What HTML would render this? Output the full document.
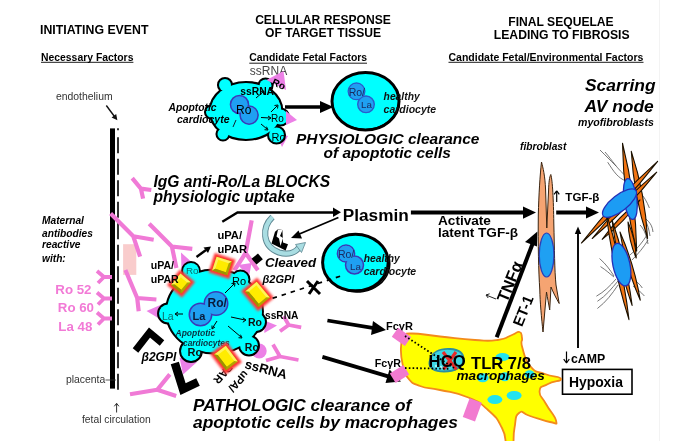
<!DOCTYPE html>
<html><head><meta charset="utf-8">
<style>
html,body{margin:0;padding:0;background:#fff;}
body{width:682px;height:441px;overflow:hidden;position:relative;}
svg{position:absolute;left:0;top:0;filter:blur(0.35px);}
text{font-family:"Liberation Sans",sans-serif;fill:#000;}
.b{font-weight:bold}
.i{font-style:italic}
.bi{font-weight:bold;font-style:italic}
</style></head>
<body>
<svg width="682" height="441" viewBox="0 0 682 441">
<defs>
  <marker id="ah" viewBox="0 0 10 10" refX="9" refY="5" markerWidth="3.2" markerHeight="3.2" orient="auto"><path d="M0,0 L10,5 L0,10 z" fill="#000"/></marker>
  <filter id="glow" x="-50%" y="-50%" width="200%" height="200%"><feGaussianBlur stdDeviation="1.2"/></filter>
</defs>
<rect x="0" y="0" width="682" height="441" fill="#fff"/>
<line x1="659.5" y1="0" x2="659.5" y2="441" stroke="#f3f3f3" stroke-width="1"/>

<!-- ===== headings ===== -->
<text class="b" x="40" y="33.7" font-size="12.3">INITIATING EVENT</text>
<text class="b" x="41" y="60.8" font-size="10.4">Necessary Factors</text>
<line x1="41" y1="62.3" x2="133.4" y2="62.3" stroke="#000" stroke-width="0.9"/>
<text x="56" y="99.7" font-size="10.4" style="fill:#333">endothelium</text>

<text class="b" x="323" y="24.2" font-size="12.1" text-anchor="middle">CELLULAR RESPONSE</text>
<text class="b" x="323" y="36.7" font-size="12.1" text-anchor="middle">OF TARGET TISSUE</text>
<text class="b" x="249.3" y="61.3" font-size="10.4">Candidate Fetal Factors</text>
<line x1="249.3" y1="63.2" x2="367" y2="63.2" stroke="#000" stroke-width="0.9"/>
<text x="249.8" y="74.8" font-size="12" style="fill:#444">ssRNA</text>

<text class="b" x="561" y="26" font-size="12.1" text-anchor="middle">FINAL SEQUELAE</text>
<text class="b" x="561.7" y="39" font-size="12.2" text-anchor="middle">LEADING TO FIBROSIS</text>
<text class="b" x="448.5" y="60.6" font-size="10.5">Candidate Fetal/Environmental Factors</text>
<line x1="448.5" y1="62.3" x2="643.5" y2="62.3" stroke="#000" stroke-width="0.9"/>

<text class="bi" x="585" y="91" font-size="17.4">Scarring</text>
<text class="bi" x="584.5" y="112" font-size="17.4">AV node</text>
<text class="bi" x="578" y="125.5" font-size="10.6">myofibroblasts</text>
<text class="bi" x="520" y="149.5" font-size="10.2">fibroblast</text>

<!-- ===== left barrier ===== -->
<path d="M106.3,105.5 L114.5,116.5" stroke="#111" stroke-width="1.4"/>
<path d="M117.4,120.2 L111.6,117.6 L116.2,113.9 Z" fill="#111"/>
<rect x="110" y="128.4" width="5" height="260.2" fill="#000"/>
<line x1="118" y1="128.2" x2="118" y2="130.2" stroke="#000" stroke-width="1.6"/>
<line x1="118" y1="137.2" x2="118" y2="390" stroke="#000" stroke-width="1.6" stroke-dasharray="16,5.5"/>

<text class="bi" x="42" y="224" font-size="10.2">Maternal</text>
<text class="bi" x="42" y="236.5" font-size="10.2">antibodies</text>
<text class="bi" x="42" y="248.3" font-size="10.2">reactive</text>
<text class="bi" x="42" y="261.6" font-size="10.2">with:</text>
<text class="b" x="91.5" y="293.6" font-size="13.3" text-anchor="end" style="fill:#f27ad6">Ro 52</text>
<text class="b" x="94" y="312.4" font-size="13.3" text-anchor="end" style="fill:#f27ad6">Ro 60</text>
<text class="b" x="92.3" y="330.5" font-size="13.3" text-anchor="end" style="fill:#f27ad6">La 48</text>
<text x="66" y="383" font-size="10.4" style="fill:#333">placenta</text>
<line x1="105.5" y1="380" x2="116" y2="380" stroke="#333" stroke-width="0.8"/>
<g stroke="#333" stroke-width="1" fill="none"><path d="M116.6,412.5 L116.6,403.5"/><path d="M116.6,403.3 l-2.3,3 M116.6,403.3 l2.3,3"/></g>
<text x="82" y="423" font-size="10.3" style="fill:#333">fetal circulation</text>

<!-- ===== top apoptotic cell ===== -->
<g>
  <g id="topcell-shape">
    <circle cx="225" cy="85" r="6"/>
    <circle cx="265.5" cy="85.5" r="6"/>
    <circle cx="211.5" cy="112" r="5.5"/>
    <circle cx="223" cy="134" r="5.5"/>
    <circle cx="280.5" cy="117" r="7.5"/>
    <circle cx="276.5" cy="135" r="7.5"/>
    <ellipse cx="246" cy="111" rx="35.3" ry="28"/>
  </g>
  <!-- pink triangles -->
  <path d="M276,133 L288,136 L282,147 Z" fill="#ec80e6"/>
    <use href="#topcell-shape" stroke="#000" stroke-width="4.1" fill="#000"/>
  <use href="#topcell-shape" fill="#00ffff"/>
  <g fill="#1fa0f2" stroke="#3a3ab8" stroke-width="3">
    <circle cx="239.5" cy="104.5" r="8.3"/>
    <circle cx="249.1" cy="115.1" r="8.3"/>
  </g>
  <g fill="#1fa0f2">
    <circle cx="239.5" cy="104.5" r="8.3"/>
    <circle cx="249.1" cy="115.1" r="8.3"/>
  </g>
  <path d="M233,127 L236,120" stroke="#123" stroke-width="1"/>
  <path d="M266.5,80 L283.5,71 L286,90 Z" fill="#ec80e6"/>
  <path d="M286,111 L297,120 L286,125 Z" fill="#ec80e6"/>
<text class="b" x="240.3" y="95" font-size="10.3" style="fill:#000">ssRNA</text>
  <text x="236" y="114.2" font-size="12" style="fill:#000">Ro</text>
  <text x="271" y="121.5" font-size="10" style="fill:#000">Ro</text>
  <text x="271.5" y="140.5" font-size="11" style="fill:#000">Ro</text>
  <text x="273" y="87" font-size="10" class="b" transform="rotate(25 278 82)" style="fill:#000">Ro</text>
  <g stroke="#000" stroke-width="1" fill="none">
    <path d="M256,98 L263,92"/><path d="M264,91 l-3.5,0.5 M264,91 l-0.5,3.5"/>
    <path d="M271,112 L277,106"/><path d="M278,105 l-3.5,0.5 M278,105 l-0.5,3.5"/>
    <path d="M261,117.5 L270,118"/><path d="M271,118 l-3,-2 M271,118 l-3,2"/>
    <path d="M261,124 L267,129"/><path d="M268,130 l-1.5,-3.3 M268,130 l-3.5,-0.3"/>
  </g>
  <text class="bi" x="168.5" y="111" font-size="10.3">Apoptotic</text>
  <text class="bi" x="177" y="122.5" font-size="10.5">cardiocyte</text>
</g>
<!-- arrow to healthy -->
<path d="M285,107 L322,107" stroke="#000" stroke-width="3.6"/>
<path d="M320,101 L333.5,107 L320,113 Z" fill="#000"/>
<!-- healthy cell top -->
<g>
  <ellipse cx="365.5" cy="101.2" rx="33.5" ry="28.8" fill="#00ffff" stroke="#000" stroke-width="3"/>
  <path d="M396,90 A33.5,28.8 0 0 1 350,126" stroke="#000" stroke-width="2" fill="none" transform="translate(1 1)"/>
  <g fill="#1fa0f2" stroke="#2a5ccc" stroke-width="1.4">
    <circle cx="356.5" cy="91.3" r="8.3"/>
    <circle cx="366" cy="104.3" r="8.3"/>
  </g>
  <circle cx="356.5" cy="91.3" r="7.6" fill="#1fa0f2"/>
  <text x="348.7" y="95.5" font-size="10.5" style="fill:#1a2a60">Ro/</text>
  <text x="361" y="108" font-size="9.8" style="fill:#1a2a60">La</text>
  <text class="bi" x="383.6" y="100" font-size="10.3" style="fill:#111">healthy</text>
  <text class="bi" x="383.6" y="113" font-size="10.5" style="fill:#111">cardiocyte</text>
</g>

<!-- antibodies -->
<g>
<path d="M132.2,178.2 L140.9,188.6 M151.3,190 L140.9,188.6 L143.1,198.6" stroke="#f07ad6" stroke-width="4.2" fill="none" stroke-linejoin="round"/>
<rect x="123.1" y="244.2" width="13.2" height="30.7" fill="#f9cccc"/>
<path d="M110.6,213.6 L133.3,236.3 M153.7,239.7 L133.3,236.3 L140.1,256.7" stroke="#f07ad6" stroke-width="4.2" fill="none" stroke-linejoin="round"/>
<path d="M149.2,223.8 L171.9,246.5 M192.3,248.8 L171.9,246.5 L176.4,268" stroke="#f07ad6" stroke-width="4.2" fill="none" stroke-linejoin="round"/>
<path d="M112,277 L104,277 M97,271 L104,277 L98,283" stroke="#f07ad6" stroke-width="3.8" fill="none" stroke-linejoin="round"/>
<path d="M112,298.5 L104,298.5 M97,292.5 L104,298.5 L98,304.5" stroke="#f07ad6" stroke-width="3.8" fill="none" stroke-linejoin="round"/>
<path d="M112,318.5 L104,318.5 M97,312.5 L104,318.5 L98,324.5" stroke="#f07ad6" stroke-width="3.8" fill="none" stroke-linejoin="round"/>
<path d="M125.4,270 L137.2,298 M156.4,299.5 L137.2,298 L138.7,311.3" stroke="#f07ad6" stroke-width="4.2" fill="none" stroke-linejoin="round"/>
<path d="M130,394.3 L157.2,389.8 M169.8,374.4 L157.2,389.8 L176.2,396" stroke="#f07ad6" stroke-width="4.2" fill="none" stroke-linejoin="round"/>
<path d="M251.7,220.3 L245.6,253 M234.4,270.3 L245.6,253 L257.9,270.3" stroke="#f07ad6" stroke-width="4.2" fill="none" stroke-linejoin="round"/>
<path d="M301.2,327.4 L288.7,325 M283.7,316.2 L288.7,325 L280,331.2" stroke="#f07ad6" stroke-width="3.8" fill="none" stroke-linejoin="round"/>
<path d="M298.5,360 L280,356.5 M273,344.5 L280,356.5 L266,360.5" stroke="#f07ad6" stroke-width="3.8" fill="none" stroke-linejoin="round"/>
</g>
<!-- ===== bottom apoptotic cell ===== -->
<g>
  <g id="botcell-shape">
    <circle cx="191" cy="271" r="8"/>
    <circle cx="240.5" cy="279.5" r="8"/>
    <circle cx="168" cy="313.5" r="9"/>
    <circle cx="256" cy="322" r="9"/>
    <circle cx="249" cy="345.5" r="9"/>
    <circle cx="191" cy="351" r="10"/>
    <ellipse cx="214.5" cy="311.5" rx="47.5" ry="41"/>
  </g>
  <!-- pink triangles -->
  <g fill="#ec80e6">
    <path d="M181,252.5 L196,266 L181.5,271 Z"/>
    <path d="M146.5,311 L162.7,304 L161.5,320 Z"/>
    <path d="M264.4,320.5 L277,325.5 L264.4,333 Z"/>
    <path d="M238,265 L251.5,263 L249,277 Z"/>
    <circle cx="259.2" cy="351" r="7.5"/>
    <path d="M179.5,357.5 L197,362 L183,374.5 Z"/>
  </g>
  <use href="#botcell-shape" stroke="#000" stroke-width="3.9" fill="#000"/>
  <use href="#botcell-shape" fill="#00ffff"/>
  <g fill="#1fa0f2" stroke="#3a3ab8" stroke-width="3">
    <circle cx="200.5" cy="314.5" r="10.5"/>
    <circle cx="216" cy="303.5" r="11"/>
  </g>
  <g fill="#1fa0f2">
    <circle cx="200.5" cy="314.5" r="10.5"/>
    <circle cx="216" cy="303.5" r="11"/>
  </g>

  <text x="207.5" y="306.8" font-size="12" class="b" style="fill:#0a1a3a">Ro/</text>
  <text x="192.5" y="319.5" font-size="11" class="b" style="fill:#0a1a3a">La</text>
  <text x="162" y="320" font-size="10.5" style="fill:#0d6a6a">La</text>
  <text x="186" y="274.3" font-size="9.8" style="fill:#0d6a6a">Ro</text>
  <text x="232" y="284.6" font-size="11" style="fill:#000">Ro</text>
  <text x="248" y="325.7" font-size="10.5" class="b" style="fill:#111">Ro</text>
  <text x="244.8" y="351" font-size="10.5" class="b" style="fill:#111">Ro</text>
  <text x="187.6" y="356" font-size="11" class="b" style="fill:#111">Ro</text>
  <text x="265" y="319" font-size="10.2" class="b">ssRNA</text>
  <text x="244" y="368" font-size="13.2" class="b" transform="rotate(15 244 368)">ssRNA</text>
  <text class="bi" x="175.5" y="336" font-size="8.5" style="fill:#0a3040">Apoptotic</text>
  <text class="bi" x="183" y="346.3" font-size="8.4" style="fill:#0a3040">cardiocytes</text>
  <g stroke="#000" stroke-width="1" fill="none">
    <path d="M183,314 L176,314"/><path d="M175,314 l3,-2 M175,314 l3,2"/>
    <path d="M225,293 L234,284"/><path d="M235,283 l-3.5,0.5 M235,283 l-0.5,3.5"/>
    <path d="M231,317 L245,320"/><path d="M246,320 l-3.2,-2.2 M246,320 l-3.2,2.2"/>
    <path d="M228,326 L241,337"/><path d="M242,338 l-1.5,-3.3 M242,338 l-3.5,-0.3"/>
    <path d="M217,321 L212.5,328"/><path d="M212,329 l0,-3.5 M212,329 l3,-2"/>
  </g>
  <text class="b" font-size="11" text-anchor="middle" dy="0.36em" transform="translate(225.5 371.5) rotate(132)">uPAR</text>
  <!-- yellow pyramids -->
  <g id="pyr">
<g transform="translate(181 283.5) rotate(40)">
  <rect x="-9.75" y="-10.25" width="19.50" height="20.50" fill="#ff3a3a" filter="url(#glow)"/>
  <rect x="-7.55" y="-8.05" width="15.1" height="16.1" fill="#ff3a2a"/>
  <rect x="-6.75" y="-7.25" width="13.5" height="14.5" fill="#b0a400"/>
  <path d="M-6.75,-7.25 L6.75,-7.25 L4.25,-4.75 L-4.25,4.75 L-6.75,7.25 Z" fill="#fff25a"/>
  <rect x="-4.25" y="-4.75" width="8.5" height="9.5" fill="#ffec00"/>
  <path d="M-6.75,7.25 L-4.25,4.75 L4.25,4.75 L6.75,7.25 Z" fill="#9c9200"/>
</g><g transform="translate(222 266) rotate(18)">
  <rect x="-11.00" y="-10.25" width="22.00" height="20.50" fill="#ff3a3a" filter="url(#glow)"/>
  <rect x="-8.8" y="-8.05" width="17.6" height="16.1" fill="#ff3a2a"/>
  <rect x="-8.0" y="-7.25" width="16" height="14.5" fill="#b0a400"/>
  <path d="M-8.0,-7.25 L8.0,-7.25 L5.5,-4.75 L-5.5,4.75 L-8.0,7.25 Z" fill="#fff25a"/>
  <rect x="-5.5" y="-4.75" width="11" height="9.5" fill="#ffec00"/>
  <path d="M-8.0,7.25 L-5.5,4.75 L5.5,4.75 L8.0,7.25 Z" fill="#9c9200"/>
</g><g transform="translate(257.5 294.5) rotate(50)">
  <rect x="-13.25" y="-10.50" width="26.50" height="21.00" fill="#ff3a3a" filter="url(#glow)"/>
  <rect x="-11.05" y="-8.3" width="22.1" height="16.6" fill="#ff3a2a"/>
  <rect x="-10.25" y="-7.5" width="20.5" height="15" fill="#b0a400"/>
  <path d="M-10.25,-7.5 L10.25,-7.5 L7.75,-5.0 L-7.75,5.0 L-10.25,7.5 Z" fill="#fff25a"/>
  <rect x="-7.75" y="-5.0" width="15.5" height="10" fill="#ffec00"/>
  <path d="M-10.25,7.5 L-7.75,5.0 L7.75,5.0 L10.25,7.5 Z" fill="#9c9200"/>
</g><g transform="translate(226 358) rotate(53)">
  <rect x="-12.95" y="-10.25" width="25.90" height="20.50" fill="#ff3a3a" filter="url(#glow)"/>
  <rect x="-10.75" y="-8.05" width="21.5" height="16.1" fill="#ff3a2a"/>
  <rect x="-9.95" y="-7.25" width="19.9" height="14.5" fill="#b0a400"/>
  <path d="M-9.95,-7.25 L9.95,-7.25 L7.449999999999999,-4.75 L-7.449999999999999,4.75 L-9.95,7.25 Z" fill="#fff25a"/>
  <rect x="-7.449999999999999" y="-4.75" width="14.899999999999999" height="9.5" fill="#ffec00"/>
  <path d="M-9.95,7.25 L-7.449999999999999,4.75 L7.449999999999999,4.75 L9.95,7.25 Z" fill="#9c9200"/>
</g>
  </g>
</g>


<!-- black L shapes and diamond -->
<path d="M135.5,350.5 L149.5,332.5 L162,343" stroke="#000" stroke-width="7" fill="none" stroke-linejoin="miter"/>
<path d="M174.8,363 L183,389 L198,382" stroke="#000" stroke-width="8.5" fill="none" stroke-linejoin="miter"/>
<rect x="-4.2" y="-3.8" width="8.4" height="7.6" fill="#000" transform="translate(257.2 259) rotate(-40)"/>
<text class="bi" x="141.5" y="360.5" font-size="12">β2GPI</text>
<text class="b" x="217.4" y="238.5" font-size="11.2">uPA/</text>
<text class="b" x="217.4" y="253" font-size="11.2">uPAR</text>
<text class="b" x="150.7" y="269.4" font-size="10.6">uPA/</text>
<text class="b" x="150.7" y="282.8" font-size="10.6">uPAR</text>
<text class="b" font-size="11" text-anchor="middle" dy="0.36em" transform="translate(238.5 381.5) rotate(132)">uPA/</text>
<text class="bi" x="265" y="267" font-size="13.3">Cleaved</text>
<text class="bi" x="262.5" y="283" font-size="11">β2GPI</text>

<!-- uPAR -> plasmin line -->
<path d="M222.3,221.7 L237.5,212.5 L334,212.5" stroke="#000" stroke-width="2.4" fill="none"/>
<path d="M333,207.5 L341,212.3 L333,217 Z" fill="#000"/>
<path d="M196.5,257 L206,250" stroke="#000" stroke-width="2.4"/>
<path d="M203.5,247.5 L211,246.5 L208,253 Z" fill="#000"/>
<!-- plasmin -> cleaved arrow -->
<path d="M338.4,217.5 L297,235" stroke="#000" stroke-width="1.8"/>
<path d="M298.5,230.5 L291,238 L302,238.5 Z" fill="#000"/>
<!-- cyclic icon -->
<path d="M272.5,217 C262,227 261.5,246 279,252.5 C289,255.5 296,252 299.5,247" stroke="#5d8792" stroke-width="6.2" fill="none"/>
<path d="M272.5,217 C262,227 261.5,246 279,252.5 C289,255.5 296,252 299.5,247" stroke="#a9dde2" stroke-width="4.4" fill="none"/>
<path d="M295.5,244.5 L305.5,242.5 L301.5,252.5 Z" fill="#a9dde2" stroke="#5d8792" stroke-width="0.8"/>
<path d="M271.5,243.5 L275,231.8 L278,229.3 L282.4,230 L283,242.4 L288,244.3 L285.6,250.5 Z" fill="#000"/>
<path d="M278,229.5 L282.5,230 L280,236 L283,238 L280.5,246 L279,238.5 L276.5,236.5 Z" fill="#fff"/>

<!-- lower healthy cell -->
<g>
  <ellipse cx="355.4" cy="262.5" rx="32.8" ry="28.3" fill="#00ffff" stroke="#000" stroke-width="3"/>
  <path d="M388,256 A32.8,28.3 0 0 1 345,289.5" stroke="#000" stroke-width="1.6" fill="none" transform="translate(0.8 0.8)"/>
  <g fill="#1fa0f2" stroke="#3a3ab8" stroke-width="1.5">
    <circle cx="346" cy="253.5" r="8.6"/>
    <circle cx="354.5" cy="265" r="9"/>
  </g>
  <circle cx="346" cy="253.5" r="7.8" fill="#1fa0f2"/>
  <text x="337.9" y="257.5" font-size="10.5" style="fill:#1a2a60">Ro/</text>
  <text x="350" y="269.7" font-size="9.8" style="fill:#1a2a60">La</text>
  <text class="bi" x="363.7" y="262" font-size="10.3" style="fill:#111">healthy</text>
  <text class="bi" x="363.7" y="275" font-size="10.5" style="fill:#111">cardiocyte</text>
</g>
<path d="M272.6,298.3 L343.3,275.2" stroke="#000" stroke-width="1.7" stroke-dasharray="4.5,5"/>
<path d="M307,281 L320,294 M309,294 L318,281" stroke="#000" stroke-width="3"/>

<!-- plasmin -> fibroblast arrow -->
<path d="M410.9,212.6 L525,212.6" stroke="#000" stroke-width="4"/>
<path d="M523,206.5 L536,212.6 L523,218.7 Z" fill="#000"/>
<!-- fibroblast -> myofibroblast arrow -->
<path d="M556.2,212.5 L588,212.5" stroke="#000" stroke-width="4"/>
<path d="M586,206.5 L599,212.5 L586,218.5 Z" fill="#000"/>
<text class="b" x="565.3" y="200.5" font-size="11.6">TGF-β</text>
<g stroke="#000" stroke-width="1.2" fill="none"><path d="M556.7,202 L556.7,191"/><path d="M556.7,190.8 l-2.6,3.6 M556.7,190.8 l2.6,3.6"/></g>

<!-- FcgR arrows -->
<path d="M327.4,320.5 L374,328.2" stroke="#000" stroke-width="3.8"/>
<path d="M373,321 L386,330 L371,335 Z" fill="#000"/>
<path d="M322.4,356.9 L389,376.6" stroke="#000" stroke-width="3.8"/>
<path d="M389.5,369.5 L401,381.5 L385.5,383 Z" fill="#000"/>
<text class="b" x="386" y="330.4" font-size="11">FcγR</text>
<text class="b" x="374.8" y="367" font-size="10.7">FcγR</text>

<!-- ET-1 / TNFa arrow -->
<path d="M496.7,337.3 L532.5,244" stroke="#000" stroke-width="4"/>
<path d="M525,242 L537.4,231.4 L537,246.5 Z" fill="#000"/>
<text class="b" font-size="16.5" text-anchor="middle" dy="0.36em" transform="translate(509.5 281.5) rotate(-68)">TNFα</text>
<g stroke="#222" stroke-width="1" fill="none"><path d="M496,299 L486,295"/><path d="M486,295 l3.6,-1.2 M486,295 l2.2,3"/></g>
<text class="b" font-size="15" text-anchor="middle" dy="0.36em" transform="translate(523 310.7) rotate(-68)">ET-1</text>

<!-- cAMP arrow -->
<path d="M578,348 L578,232" stroke="#000" stroke-width="1.9"/>
<path d="M574.8,234 L578,226.5 L581.2,234 Z" fill="#000"/>
<text class="b" x="571" y="363" font-size="12.3">cAMP</text>
<g stroke="#000" stroke-width="1.2" fill="none"><path d="M566.5,351.5 L566.5,362.8"/><path d="M566.5,363 l-2.8,-3.8 M566.5,363 l2.8,-3.8"/></g>
<rect x="562.5" y="369.4" width="69.5" height="24.8" fill="#fff" stroke="#000" stroke-width="1.6"/>
<text class="b" x="568.9" y="386.5" font-size="13.9">Hypoxia</text>


<!-- macrophage -->
<g>
  <path d="M401.0,347.0 C401.6,338.8 401.9,340.8 405.0,337.0 C408.1,333.2 402.1,333.6 412.0,333.5 C421.9,333.4 422.1,334.7 440.0,336.5 C457.9,338.3 458.7,339.0 475.0,340.0 C491.3,341.0 487.1,341.4 497.6,340.0 C508.1,338.6 505.8,337.3 512.0,335.0 C518.2,332.7 516.7,331.1 519.5,332.0 C522.3,332.9 521.2,333.6 522.0,338.0 C522.8,342.4 519.9,339.4 522.3,347.5 C524.7,355.6 524.2,359.2 530.6,366.7 C537.0,374.2 536.4,370.6 545.0,374.0 C553.6,377.4 560.1,376.0 561.0,378.8 C561.9,381.6 554.1,380.5 548.0,384.0 C541.9,387.5 540.2,385.3 539.6,391.0 C539.0,396.7 541.4,395.6 546.0,404.0 C550.6,412.4 554.9,415.4 556.0,420.5 C557.1,425.6 557.4,423.3 550.0,422.0 C542.6,420.7 538.8,418.6 530.0,416.0 C521.2,413.4 523.4,409.6 519.0,413.0 C514.6,416.4 516.3,418.6 514.5,428.0 C512.7,437.4 514.6,440.9 512.5,446.0 C510.4,451.1 510.0,451.1 507.0,446.0 C504.0,440.9 507.4,438.2 502.0,428.0 C496.6,417.8 497.9,418.8 488.0,410.0 C478.1,401.2 480.6,402.7 467.0,397.0 C453.4,391.3 453.3,393.1 440.0,390.0 C426.7,386.9 429.1,389.4 420.0,386.0 C410.9,382.6 412.8,383.7 408.0,378.0 C403.2,372.3 405.0,374.8 403.0,366.0 C401.0,357.2 400.4,355.2 401.0,347.0 Z" fill="#ffff00" stroke="#f38a1c" stroke-width="1.8"/>
  <g fill="#22e3f0">
    <ellipse cx="502.5" cy="357" rx="7" ry="4"/>
    <ellipse cx="482.8" cy="377.7" rx="5.8" ry="4.5"/>
    <ellipse cx="504.8" cy="376.7" rx="5" ry="4.5"/>
    <ellipse cx="529.6" cy="374.3" rx="5" ry="4"/>
    <ellipse cx="494.9" cy="399.6" rx="7.5" ry="4.5"/>
    <ellipse cx="514.1" cy="395.5" rx="7.5" ry="4.5"/>
  </g>
  <!-- nucleus behind HCQ -->
  <path d="M429.5,362 C431,352 440,348.5 450,349 C459,349.5 464,353 463.5,360 C463,367 455,371.5 444,371.5 C434,371.5 428.5,368 429.5,362 Z" fill="#3ed6e2" stroke="#2a8fa0" stroke-width="1.8"/>
  <g fill="#bff" opacity="0.8"><circle cx="436" cy="366" r="1.2"/><circle cx="441" cy="367" r="1.2"/><circle cx="446" cy="366.5" r="1.2"/></g>
  <path d="M443,352 L456.5,369.5 M456,352 L443.5,369.5" stroke="#e62a2a" stroke-width="3.2"/>
  <g fill="#f27ad0">
    <rect x="-5.5" y="-8" width="11" height="16" transform="translate(401.5 336.8) rotate(-55)"/>
    <rect x="-5.5" y="-8" width="11" height="16" transform="translate(399.5 374) rotate(58)"/>
    <rect x="-6.5" y="-10" width="13" height="20" transform="translate(472.3 409.9) rotate(20)"/>
  </g>
  <path d="M405,336 L455.2,368.8" stroke="#000" stroke-width="1.8" stroke-dasharray="1.6,2.2"/>
  <path d="M405,368 L450.4,368.8" stroke="#000" stroke-width="1.8" stroke-dasharray="1.6,2.2"/>
  <text class="b" x="428.6" y="366.7" font-size="16.7">HCQ</text>
  <text class="b" x="471" y="368.6" font-size="16.6">TLR 7/8</text>
  <text class="bi" x="456.5" y="380.3" font-size="13.6">macrophages</text>
</g>

<!-- fibroblast -->
<g>
  <path d="M541.5,162 C543,168 545,175 545.6,190 L546.8,228 L548.6,190 C548.8,182 549.5,177 550.8,174.5 C552.5,180 553.5,200 553.8,223 C554.5,250 554.5,270 556,285 L559.2,303.5 C556,298 553,292 551,287 L549.7,310 C548.5,303 547.5,298 546.5,292 L543,332 C541.5,318 540,302 539.8,290 C538.5,270 538,245 538.3,215 C538.8,195 540,175 541.5,162 Z" fill="#f5a472" stroke="#3a2410" stroke-width="1"/>
  <ellipse cx="546.6" cy="255" rx="7.3" ry="22" fill="#1fa0f2" stroke="#2a40b8" stroke-width="1.2"/>
</g>

<!-- myofibroblasts -->
<g>
  <g fill="none" stroke="#555" stroke-width="0.8"><path d="M605,152 C612,160 618,170 626,176"/><path d="M607.7,162.2 C614,172 618,178 626,181"/><path d="M600,150 C606,156 610,160 616,166"/><path d="M638.5,191 C644,196 647,202 649.4,208"/><path d="M645,220 C648,225 649,230 650,236"/><path d="M640,225 C645,230 647,238 648,244"/><path d="M642,215 C646,220 652,222 653,232"/><path d="M599.5,258.5 C606,264 610,270 614,276"/><path d="M600.5,266.6 C606,270 610,274 614,277"/><path d="M596.4,296.2 C604,292 610,286 616,279"/><path d="M597.4,301.3 C606,296 612,288 618,281"/><path d="M597.4,308.5 C606,302 612,294 618,285"/><path d="M632,279 C636,281 640,284 642.3,288"/><path d="M633,286 C637,289 641,292 644.4,296"/><path d="M630,255 C636,250 642,243 647,235"/><path d="M632,260 C638,254 644,247 648,240"/></g>
  <g fill="#f27412" stroke="#1a1000" stroke-width="1.1" stroke-linejoin="round"><path d="M622.5,143.2 Q623.3,198.0 636.7,251.2 Q635.9,196.4 622.5,143.2 Z"/><path d="M631.3,151.3 Q633.7,196.0 647.6,238.5 Q645.2,193.8 631.3,151.3 Z"/><path d="M581.4,243 Q623.3,205.7 657.6,161.3 Q615.7,198.6 581.4,243 Z"/><path d="M592.2,238.5 Q627.9,208.7 656.7,172.2 Q621.0,202.0 592.2,238.5 Z"/><path d="M602.2,239.4 Q624.0,222.5 640,200 Q618.2,216.9 602.2,239.4 Z"/><path d="M606,212 Q612.4,266.9 629,319.7 Q622.6,264.8 606,212 Z"/><path d="M612,220 Q617.6,263.8 632.1,305.4 Q626.5,261.6 612,220 Z"/><path d="M620,232 Q625.9,267.4 640.3,300.3 Q634.4,264.9 620,232 Z"/><path d="M628,222 Q628.6,240.8 636.2,258 Q635.6,239.2 628,222 Z"/></g>
  <g fill="#1c9cf4" stroke="#2430b8" stroke-width="1.3">
    <ellipse cx="630.3" cy="199" rx="6.5" ry="20.5" transform="rotate(-7.5 630.3 199)"/>
    <ellipse cx="619.5" cy="203.1" rx="20.7" ry="8" transform="rotate(-37.8 619.5 203.1)"/>
    <ellipse cx="621.4" cy="264.6" rx="8.5" ry="21.6" transform="rotate(-12 621.4 264.6)"/>
  </g>
</g>

<!-- ===== TEXT big ===== -->
<text class="bi" x="296" y="143.8" font-size="15.5">PHYSIOLOGIC clearance</text>
<text class="bi" x="323.5" y="158" font-size="15.5">of apoptotic cells</text>
<text class="bi" x="153.5" y="186.6" font-size="15.6">IgG anti-Ro/La BLOCKS</text>
<text class="bi" x="153.5" y="201.5" font-size="15.6">physiologic uptake</text>
<text class="b" x="342.8" y="220.8" font-size="17.2">Plasmin</text>
<text class="b" x="438" y="224.9" font-size="13.6">Activate</text>
<text class="b" x="438" y="236.5" font-size="13.6">latent TGF-β</text>
<text class="bi" x="193" y="411" font-size="17.3">PATHOLOGIC clearance of</text>
<text class="bi" x="193" y="428" font-size="17.4">apoptotic cells by macrophages</text>

</svg>
</body></html>
